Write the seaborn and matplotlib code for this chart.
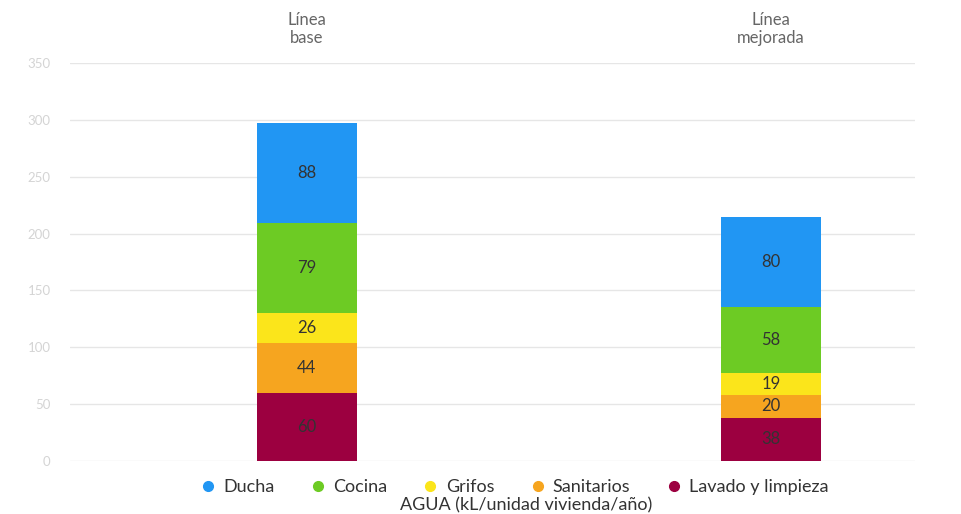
import matplotlib
matplotlib.use("Agg")
import matplotlib.pyplot as plt
import seaborn as sns
import pandas as pd
import numpy as np
from matplotlib.lines import Line2D

categories = ["Línea\nbase", "Línea\nmejorada"]
series = ["Ducha", "Cocina", "Grifos", "Sanitarios", "Lavado y limpieza"]
lavado = [60, 38]
sanitarios = [44, 20]
grifos = [26, 19]
cocina = [79, 58]
ducha = [88, 80]
colors = {"Ducha": "#2196F3", "Cocina": "#6DCB24", "Grifos": "#FBE51B",
          "Sanitarios": "#F6A51F", "Lavado y limpieza": "#9C0040"}
yticks = [0, 50, 100, 150, 200, 250, 300, 350]
title = "AGUA (kL/unidad vivienda/año)"

sns.set_theme(style="white")
plt.rcParams["font.family"] = ["Lato", "DejaVu Sans"]

# stacking order bottom->top
stack = [("Lavado y limpieza", lavado), ("Sanitarios", sanitarios),
         ("Grifos", grifos), ("Cocina", cocina), ("Ducha", ducha)]
cum = np.cumsum([v for _, v in stack], axis=0)

fig = plt.figure(figsize=(9.62, 5.14), dpi=100)
ax = fig.add_axes([70/962, (514-461)/514, 845/962, 398/514])

for i in range(len(stack) - 1, -1, -1):
    name = stack[i][0]
    df = pd.DataFrame({"cat": categories, "val": cum[i]})
    sns.barplot(data=df, x="cat", y="val", color=colors[name], saturation=1,
                width=0.215, ax=ax, linewidth=0, zorder=3)

# labels
for i, (name, vals) in enumerate(stack):
    for j, v in enumerate(vals):
        base = cum[i][j] - v
        ax.text(j, base + v / 2, str(v), ha="center", va="center",
                fontsize=12, color="#333333", zorder=5)

ax.set_ylim(0, 350)
ax.set_xlim(-0.51, 1.31)
ax.set_yticks(yticks)
ax.set_yticklabels([str(t) for t in yticks], color="#d4d4d4", fontsize=9.5)
ax.yaxis.grid(True, color="#e6e6e6", linewidth=1, zorder=0)
ax.set_axisbelow(True)
ax.xaxis.tick_top()
ax.tick_params(axis="x", length=0, pad=12, labelsize=12, labelcolor="#666666")
ax.tick_params(axis="y", length=0, pad=14)
ax.set_xlabel("")
ax.set_ylabel("")
for s in ax.spines.values():
    s.set_visible(False)

handles = [Line2D([0], [0], marker="o", linestyle="", markersize=7,
                  markerfacecolor=colors[s], markeredgecolor=colors[s]) for s in series]
fig.legend(handles, series, loc="center", bbox_to_anchor=(0.533, (514-487)/514),
           ncol=5, frameon=False, fontsize=13, handletextpad=0.25,
           handlelength=1.2, columnspacing=1.8, labelcolor="#333333")
fig.text(0.547, (514-505)/514, title, ha="center", va="center", fontsize=13,
         color="#333333")

fig.savefig("out.png", dpi=100, facecolor="white")
